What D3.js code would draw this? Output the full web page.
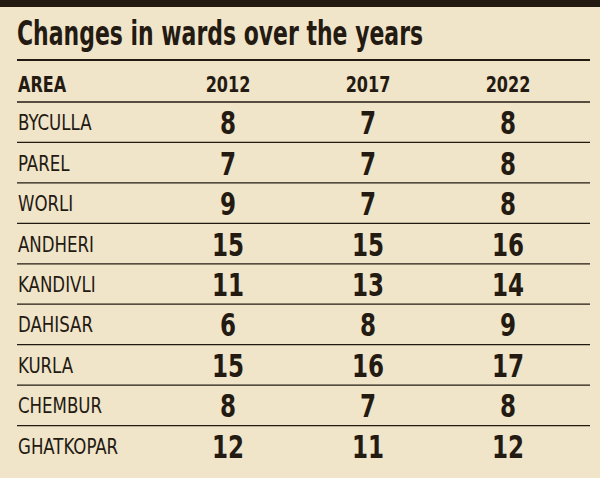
<!DOCTYPE html>
<html><head><meta charset="utf-8">
<script src="https://cdn.jsdelivr.net/npm/d3@7"></script>
<style>
body{margin:0;background:#f0e4c9;}
text{font-family:"DejaVu Sans Condensed","DejaVu Sans",sans-serif;fill:#231a12;}
</style></head>
<body>
<script>
var areas = ["BYCULLA","PAREL","WORLI","ANDHERI","KANDIVLI","DAHISAR","KURLA","CHEMBUR","GHATKOPAR"];
var years = ["2012","2017","2022"];
var v2012 = [8,7,9,15,11,6,15,8,12];
var v2017 = [7,7,7,15,13,8,16,7,11];
var v2022 = [8,8,8,16,14,9,17,8,12];
var series = [v2012, v2017, v2022];

var W = 600, H = 478;
var svg = d3.select("body").append("svg")
  .attr("width", W)
  .attr("height", H);

// squeeze text horizontally to mimic the condensed newspaper face
function place(px, py, sx){
  return "translate(" + px + "," + py + ") scale(" + sx + ",1)";
}

svg.append("rect").attr("width", W).attr("height", H).attr("fill", "#f0e4c9");
svg.append("rect").attr("width", W).attr("height", 7).attr("fill", "#231a12");

svg.append("text")
  .attr("transform", place(17, 45, 0.74))
  .style("font-size", "33px")
  .style("font-weight", "bold")
  .text("Changes in wards over the years");

svg.append("line")
  .attr("x1", 17).attr("x2", 590)
  .attr("y1", 60).attr("y2", 60)
  .attr("stroke", "#231a12").attr("stroke-width", 2);

var x = d3.scalePoint().domain(years).range([228, 508]);
var y = d3.scaleBand().domain(areas).range([102, 466]);

svg.append("text")
  .attr("transform", place(18, 92, 0.85))
  .style("font-size", "21px").style("font-weight", "bold")
  .text("AREA");

svg.selectAll(".yr").data(years).enter().append("text")
  .attr("transform", d => place(x(d), 92, 0.85))
  .attr("text-anchor", "middle")
  .style("font-size", "21px").style("font-weight", "bold")
  .text(d => d);

svg.append("line")
  .attr("x1", 17).attr("x2", 590)
  .attr("y1", 102).attr("y2", 102)
  .attr("stroke", "#231a12").attr("stroke-width", 1.5);

// row separators
svg.selectAll(".sep").data(areas.slice(0, -1)).enter().append("line")
  .attr("x1", 17).attr("x2", 590)
  .attr("y1", d => y(d) + y.bandwidth())
  .attr("y2", d => y(d) + y.bandwidth())
  .attr("stroke", "#231a12").attr("stroke-width", 1.2);

svg.selectAll(".area").data(areas).enter().append("text")
  .attr("transform", d => place(18, y(d) + y.bandwidth() / 2 + 8, 0.88))
  .style("font-size", "21px")
  .text(d => d);

series.forEach(function(vals, i){
  svg.selectAll(".v" + i).data(vals).enter().append("text")
    .attr("transform", (d, j) => place(x(years[i]), y(areas[j]) + y.bandwidth() / 2 + 12, 0.8))
    .attr("text-anchor", "middle")
    .style("font-size", "32px").style("font-weight", "bold")
    .text(d => d);
});
</script>
</body></html>
